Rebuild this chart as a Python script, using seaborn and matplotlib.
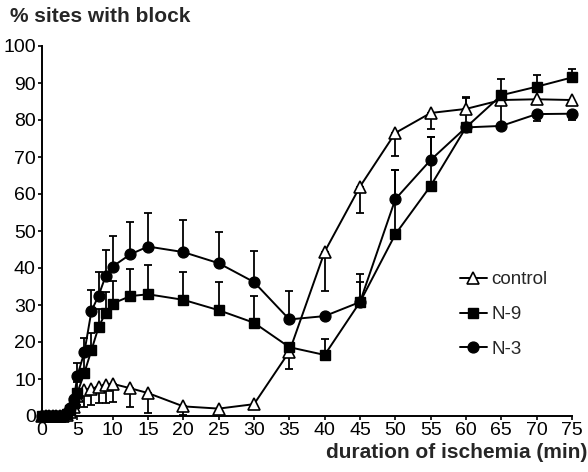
import numpy as np
import pandas as pd
import matplotlib
matplotlib.use("Agg")
import matplotlib.pyplot as plt
import seaborn as sns

# ---- data ----
times = [0, 0.5, 1, 1.5, 2, 2.5, 3, 3.5, 4, 4.5, 5, 6, 7, 8, 9, 10, 12.5, 15,
         20, 25, 30, 35, 40, 45, 50, 55, 60, 65, 70, 75]

control = [0, 0, 0, 0, 0, 0, 0, 0.3, 1.0, 2.5, 5.5, 6.9, 7.4, 7.9, 8.3, 8.7, 7.5, 6.2,
           2.6, 2.0, 3.2, 17.4, 44.4, 62.0, 76.5, 81.9, 83.0, 85.4, 85.6, 85.4]
control_up = [0, 0, 0, 0, 0, 0, 0, 0, 0, 0, 0, 0, 0, 0, 0, 0, 0, 0,
              0, 0, 0, 0, 0, 0, 0, 0, 3.2, 0, 0, 0]
control_down = [0, 0, 0, 0, 0, 0, 0, 0, 0, 0, 2.5, 4.6, 4.4, 4.5, 4.9, 4.8, 5.2, 5.3,
                2.4, 1.5, 0, 4.8, 10.5, 7.0, 6.2, 4.2, 0, 0, 0, 0]

n9 = [0, 0, 0, 0, 0, 0, 0, 0.5, 1.5, 3.5, 6.2, 11.7, 17.8, 24.0, 27.9, 30.4, 32.4, 32.9,
      31.4, 28.6, 25.2, 18.6, 16.5, 30.8, 49.1, 62.2, 78.0, 86.7, 89.0, 91.5]
n9_up = [0, 0, 0, 0, 0, 0, 0, 0, 0, 0, 3.0, 6.5, 4.5, 4.8, 5.5, 6.1, 7.2, 7.9,
         7.6, 7.7, 7.1, 0, 4.2, 7.7, 17.4, 13.3, 8.0, 0, 3.2, 2.4]

n3 = [0, 0, 0, 0, 0, 0, 0, 0.8, 2.2, 4.5, 10.8, 17.3, 28.4, 32.5, 37.8, 40.4, 43.7, 45.8,
      44.3, 41.3, 36.2, 26.1, 27.0, 30.8, 58.6, 69.2, 78.0, 78.4, 81.6, 81.7]
n3_up = [0, 0, 0, 0, 0, 0, 0, 0, 0, 0, 3.4, 3.9, 5.7, 6.3, 7.1, 8.2, 8.8, 9.2,
         8.8, 8.5, 8.3, 7.7, 0, 5.5, 7.9, 6.3, 0, 12.8, 0, 0]
n3_down = [0, 0, 0, 0, 0, 0, 0, 0, 0, 0, 0, 0, 0, 0, 0, 0, 0, 0,
           0, 0, 0, 0, 0, 0, 0, 0, 0, 0, 1.9, 1.7]

labels = ["control", "N-9", "N-3"]
y_ticks = list(range(0, 101, 10))
x_ticks = list(range(0, 76, 5))

# ---- figure ----
sns.set_theme(style="ticks")
plt.rcParams["font.family"] = ["Liberation Sans", "DejaVu Sans"]

fig = plt.figure(figsize=(5.88, 4.72), dpi=100)
ax = fig.add_axes([42 / 588, 1 - 416 / 472, 530 / 588, 370 / 472])

t = np.array(times, dtype=float)


def bars(vals, up, down):
    v = np.array(vals, float)
    up = np.array(up, float)
    down = np.array(down, float)
    m = up > 0
    if m.any():
        ax.errorbar(t[m], v[m], yerr=[np.zeros(m.sum()), up[m]], fmt="none",
                    ecolor="black", elinewidth=1.3, capsize=3, capthick=1.3,
                    zorder=2, clip_on=False)
    m = down > 0
    if m.any():
        ax.errorbar(t[m], v[m], yerr=[down[m], np.zeros(m.sum())], fmt="none",
                    ecolor="black", elinewidth=1.3, capsize=3, capthick=1.3,
                    zorder=2, clip_on=False)


bars(n9, n9_up, [0] * len(times))
bars(n3, n3_up, n3_down)
bars(control, control_up, control_down)

df9 = pd.DataFrame({"t": times, "v": n9})
df3 = pd.DataFrame({"t": times, "v": n3})
dfc = pd.DataFrame({"t": times, "v": control})

sns.lineplot(data=dfc, x="t", y="v", ax=ax, color="black", lw=1.4, marker="^",
             markersize=8, markerfacecolor="white", markeredgecolor="black",
             markeredgewidth=1.2, label=labels[0], zorder=3, clip_on=False)
sns.lineplot(data=df3, x="t", y="v", ax=ax, color="black", lw=1.4, marker="o",
             markersize=7.8, markerfacecolor="black", markeredgecolor="black",
             markeredgewidth=1.0, label=labels[2], zorder=4, clip_on=False)
sns.lineplot(data=df9, x="t", y="v", ax=ax, color="black", lw=1.4, marker="s",
             markersize=7.3, markerfacecolor="black", markeredgecolor="black",
             markeredgewidth=1.0, label=labels[1], zorder=5, clip_on=False)

ax.set_xlim(0, 75)
ax.set_ylim(0, 100)
ax.set_xticks(x_ticks)
ax.set_yticks(y_ticks)
ax.tick_params(axis="both", direction="out", length=3, width=1.2, labelsize=14,
               colors="black", pad=1.5)
for s in ["top", "right"]:
    ax.spines[s].set_visible(False)
for s in ["left", "bottom"]:
    ax.spines[s].set_linewidth(1.4)
    ax.spines[s].set_color("black")
ax.set_xlabel("")
ax.set_ylabel("")

h, l = ax.get_legend_handles_labels()
order = [l.index(x) for x in labels]
ax.legend([h[i] for i in order], [l[i] for i in order], loc="upper left",
          bbox_to_anchor=(0.775, 0.412), frameon=False, fontsize=13.5,
          handlelength=1.4, handletextpad=0.25, labelspacing=0.95,
          borderaxespad=0)

fig.text(10 / 588, 1 - 16 / 472, "% sites with block", fontsize=15,
         fontweight="bold", va="center", ha="left")
fig.text(587 / 588, 1 - 452 / 472, "duration of ischemia (min)", fontsize=15,
         fontweight="bold", va="center", ha="right")

fig.savefig("out.png", dpi=100)
